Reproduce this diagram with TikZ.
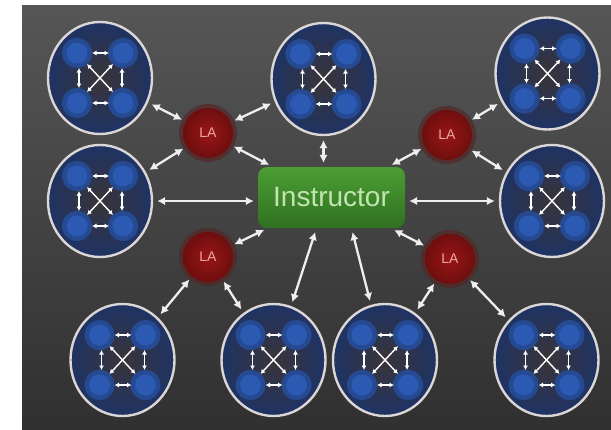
\documentclass[tikz,border=0pt]{standalone}
\usepackage{fontspec}
\newfontfamily\labelfont{Liberation Sans}
\usetikzlibrary{shapes.geometric,arrows.meta,calc,backgrounds}

\definecolor{bgtop}{HTML}{565656}
\definecolor{bgbot}{HTML}{303030}
\definecolor{ringcol}{HTML}{DCD6D6}
\definecolor{teamin}{HTML}{3A3438}
\definecolor{teamout}{HTML}{1E3364}
\definecolor{dotblue}{HTML}{2C5AB2}
\definecolor{halo}{HTML}{254A92}
\definecolor{linkcol}{HTML}{EEEEEE}
\definecolor{laedge}{HTML}{6E0E0E}
\definecolor{lacore}{HTML}{9A1616}
\definecolor{laglow}{HTML}{552626}
\definecolor{latext}{HTML}{EBA7A7}
\definecolor{boxtop}{HTML}{4C9E34}
\definecolor{boxbot}{HTML}{2F7020}
\definecolor{boxtext}{HTML}{C2E4B2}

\begin{document}
\begin{tikzpicture}[x=1pt,y=-1pt,
  teamcircle/.style={ellipse, draw=ringcol, line width=2.4pt,
    inner color=teamin, outer color=teamout,
    minimum width=104pt, minimum height=112pt, inner sep=0pt},
  lanode/.style={circle, inner color=lacore, outer color=laedge, minimum size=50pt,
    inner sep=0pt, font=\labelfont\fontsize{14}{14}\selectfont, text=latext},
  instrbox/.style={rounded corners=9pt, top color=boxtop, bottom color=boxbot,
    minimum width=147pt, minimum height=61pt, inner sep=0pt,
    font=\labelfont\fontsize{28}{28}\selectfont, text=boxtext},
  link/.style={draw=linkcol, line width=2.3pt,
    {Latex[length=8pt,width=8.5pt]}-{Latex[length=8pt,width=8.5pt]},
    shorten <=4pt, shorten >=4pt},
  minilink/.style={draw=white, line width=1.4pt,
    {Latex[length=4.5pt,width=5pt]}-{Latex[length=4.5pt,width=5pt]}},
  teamicons/.pic={
    \foreach \sx/\sy in {-23/-25,23/-25,-23/25,23/25}{
      \fill[halo] (\sx,\sy) circle[radius=15pt];
    }
    \foreach \sx/\sy in {-23/-25,23/-25,-23/25,23/25}{
      \fill[dotblue] (\sx,\sy) circle[radius=10.5pt];
    }
    \draw[minilink] (-8,-25) -- (9,-25);
    \draw[minilink] (-8,25) -- (9,25);
    \draw[minilink] (-21,-10) -- (-21,10);
    \draw[minilink] (22,-10) -- (22,10);
    \draw[minilink] (-13,-14) -- (13,14);
    \draw[minilink] (13,-14) -- (-13,14);
  }]

\useasboundingbox (0,0) rectangle (611,429);

% student teams
\node[teamcircle] (tl) at (100,78) {};
\node[teamcircle] (tc) at (323.5,79) {};
\node[teamcircle] (tr) at (547.5,73.5) {};
\node[teamcircle] (ml) at (100,201) {};
\node[teamcircle] (mr) at (552,201) {};
\node[teamcircle] (ba) at (122.5,360) {};
\node[teamcircle] (bb) at (273.5,360) {};
\node[teamcircle] (bc) at (385,360) {};
\node[teamcircle] (bd) at (546.5,360) {};
\foreach \n in {tl,tc,tr,ml,mr,ba,bb,bc,bd}{
  \pic at (\n) {teamicons};
}

% learning assistants and instructor
\node[lanode] (la1) at (208,133) {LA};
\node[lanode] (la2) at (447,135) {LA};
\node[lanode] (la3) at (208,257) {LA};
\node[lanode] (la4) at (450,259) {LA};
\node[instrbox] (instr) at (331.5,197.5) {Instructor};

% two-way links
\draw[link] (tl) -- (la1);
\draw[link] (tc) -- (la1);
\draw[link] (ml) -- (la1);
\draw[link] (la1) -- (instr);
\draw[link] (tc) -- (tc |- instr.north);
\draw[link] (ml) -- (ml -| instr.west);
\draw[link] (tr) -- (la2);
\draw[link] (mr) -- (la2);
\draw[link] (la2) -- (instr);
\draw[link] (mr) -- (mr -| instr.east);
\draw[link] (la3) -- (instr);
\draw[link] (la3) -- (ba);
\draw[link] (la3) -- (bb);
\draw[link] ($(instr.south)+(-15,0)$) -- (bb);
\draw[link] ($(instr.south)+(20,0)$) -- (bc);
\draw[link] (instr) -- (la4);
\draw[link] (la4) -- (bc);
\draw[link] (la4) -- (bd);

\begin{pgfonlayer}{background}
  \fill[white] (0,0) rectangle (611,429);
  \shade[top color=bgtop, bottom color=bgbot] (22,5) rectangle (611,429);
  \foreach \n in {la1,la2,la3,la4}{
    \fill[laglow, opacity=0.7] (\n) circle[radius=29pt];
  }
\end{pgfonlayer}
\end{tikzpicture}
\end{document}
